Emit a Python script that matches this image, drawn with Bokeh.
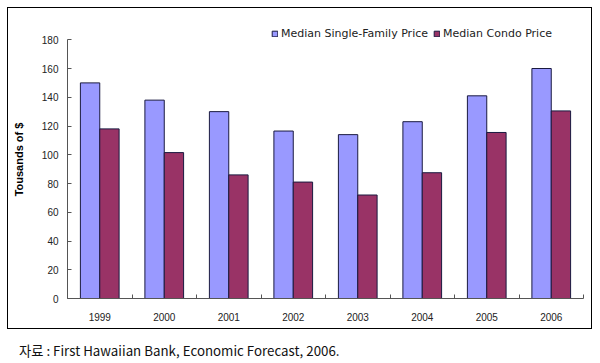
from bokeh.plotting import figure
from bokeh.models import (Range1d, FixedTicker, Legend, LegendItem, ColumnDataSource, Div)
from bokeh.transform import dodge
from bokeh.layouts import column
from bokeh.embed import file_html
from bokeh.resources import INLINE

years = ["1999", "2000", "2001", "2002", "2003", "2004", "2005", "2006"]
single_family = [150, 138, 130, 116.5, 114, 123, 141, 160]
condo = [118, 101.5, 86, 81, 72, 87.5, 115.5, 130.5]
y_ticks = [0, 20, 40, 60, 80, 100, 120, 140, 160, 180]
series_names = ["Median Single-Family Price", "Median Condo Price"]
caption = "자료 : First Hawaiian Bank, Economic Forecast, 2006."

xc = [i + 0.5 for i in range(len(years))]
src = ColumnDataSource(dict(x=xc, sf=single_family, condo=condo))

p = figure(width=585, height=322, output_backend="svg", toolbar_location=None,
           x_range=Range1d(0, len(years)), y_range=Range1d(0, 193.4),
           min_border_left=59, min_border_right=10, min_border_top=12,
           min_border_bottom=32)
p.styles = {"border": "1px solid #000000", "box-sizing": "border-box"}
p.outline_line_color = None
p.xgrid.grid_line_color = None
p.ygrid.grid_line_color = None

r1 = p.vbar(x=dodge("x", -0.15, range=p.x_range), top="sf", width=0.3, source=src,
            fill_color="#9999FF", line_color="#1a1a40", line_width=1)
r2 = p.vbar(x=dodge("x", 0.15, range=p.x_range), top="condo", width=0.3, source=src,
            fill_color="#993366", line_color="#1a1a40", line_width=1)

# y axis
ya = p.yaxis[0]
ya.ticker = FixedTicker(ticks=y_ticks)
ya.bounds = (0, 180)
ya.major_tick_in = 4
ya.major_tick_out = 0
ya.minor_tick_line_color = None
ya.axis_line_color = "#555555"
ya.major_tick_line_color = "#555555"
ya.major_label_text_font = "Liberation Sans"
ya.major_label_text_font_size = "10px"
ya.major_label_text_color = "#222222"
ya.major_label_standoff = 9
ya.axis_label = "Tousands of $"
ya.axis_label_text_font = "Liberation Sans"
ya.axis_label_text_font_size = "11px"
ya.axis_label_text_font_style = "bold"
ya.axis_label_text_color = "#000000"
ya.axis_label_standoff = 14

# x axis
xa = p.xaxis[0]
xa.ticker = FixedTicker(ticks=xc, minor_ticks=list(range(len(years) + 1)))
xa.major_label_overrides = {x: y for x, y in zip(xc, years)}
xa.major_tick_in = 0
xa.major_tick_out = 0
xa.minor_tick_in = 4
xa.minor_tick_out = 0
xa.axis_line_color = "#555555"
xa.minor_tick_line_color = "#555555"
xa.major_label_text_font = "Liberation Sans"
xa.major_label_text_font_size = "10px"
xa.major_label_text_color = "#222222"
xa.major_label_standoff = 14

legend = Legend(items=[LegendItem(label=series_names[0], renderers=[r1]),
                       LegendItem(label=series_names[1], renderers=[r2])],
                orientation="horizontal", location=(204, 258),
                padding=0, margin=0, spacing=5, label_standoff=3,
                glyph_width=7, glyph_height=7, label_height=12,
                border_line_color=None, background_fill_alpha=0,
                label_text_font="DejaVu Sans", label_text_font_size="11px",
                label_text_color="#222222")
p.add_layout(legend, "center")

cap = Div(text=caption, width=585, height=26,
          styles={"padding-top": "7px", "padding-left": "7px", "font-size": "13.3px",
                  "font-family": "Noto Sans CJK KR", "color": "#111111"})

layout = column(p, cap, spacing=0, styles={"margin-left": "7px", "margin-top": "7px"})
open("out.html", "w").write(file_html(layout, INLINE))
